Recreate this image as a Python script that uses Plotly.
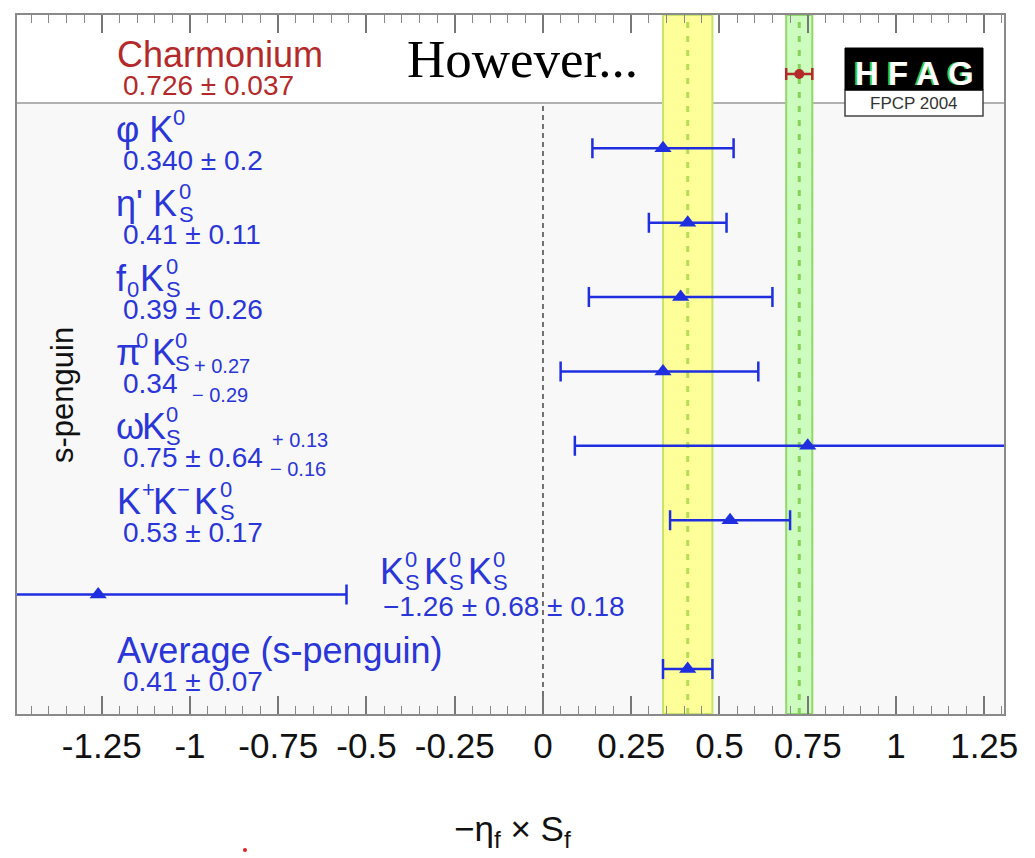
import math
import plotly.graph_objects as go

# ---------------- data ----------------
channels = ["Charmonium", "φK0", "η'K0S", "f0K0S", "π0K0S", "ωK0S", "K+K−K0S", "K0SK0SK0S", "Average (s-penguin)"]
values = [0.726, 0.340, 0.41, 0.39, 0.34, 0.75, 0.53, -1.26, 0.41]
stat_plus = [0.037, 0.20, 0.11, 0.26, 0.27, 0.64, 0.17, 0.68, 0.07]
stat_minus = [0.037, 0.20, 0.11, 0.26, 0.29, 0.64, 0.17, 0.68, 0.07]
syst_plus = [0, 0, 0, 0, 0, 0.13, 0, 0.18, 0]
syst_minus = [0, 0, 0, 0, 0, 0.16, 0, 0.18, 0]
value_labels = ["0.726 ± 0.037", "0.340 ± 0.2", "0.41 ± 0.11", "0.39 ± 0.26", "0.34",
                "0.75 ± 0.64", "0.53 ± 0.17", "−1.26 ± 0.68 ± 0.18", "0.41 ± 0.07"]
rows = [9, 8, 7, 6, 5, 4, 3, 2, 1]
tick_vals = [-1.25, -1, -0.75, -0.5, -0.25, 0, 0.25, 0.5, 0.75, 1, 1.25]
tick_text = ["-1.25", "-1", "-0.75", "-0.5", "-0.25", "0", "0.25", "0.5", "0.75", "1", "1.25"]

err_plus = [math.hypot(a, b) for a, b in zip(stat_plus, syst_plus)]
err_minus = [math.hypot(a, b) for a, b in zip(stat_minus, syst_minus)]

# ---------------- style ----------------
W, H = 1035, 858
L, R, T, B = 17, 31, 15, 144
PW, PH = W - L - R, H - T - B
SANS = "Liberation Sans, Arial, sans-serif"
SERIF = "Liberation Serif, Times New Roman, serif"
BLUE = "#2a36d8"
MARK_BLUE = "#1f2fe0"
RED = "#b42a2a"
NAME, SUB, VAL, SMALL = 36, 22, 28, 20


def px(x):
    return (x - L) / PW


def py(y):
    return (H - B - y) / PH


fig = go.Figure()

# charmonium reference
fig.add_trace(go.Scatter(
    x=values[:1], y=rows[:1], mode="markers",
    marker=dict(symbol="circle", size=10, color=RED),
    error_x=dict(type="data", symmetric=False, array=err_plus[:1], arrayminus=err_minus[:1],
                 color=RED, thickness=2.5, width=6),
    showlegend=False, hoverinfo="skip"))

# s-penguin measurements
fig.add_trace(go.Scatter(
    x=values[1:], y=rows[1:], mode="markers",
    marker=dict(symbol="triangle-up", size=15, color=MARK_BLUE),
    error_x=dict(type="data", symmetric=False, array=err_plus[1:], arrayminus=err_minus[1:],
                 color=MARK_BLUE, thickness=2.5, width=10),
    showlegend=False, hoverinfo="skip"))

y_lo, y_hi = 0.395, 9.793
sep = 8.61
avg_v, avg_e = values[-1], err_plus[-1]
ch_v, ch_e = values[0], err_plus[0]

shapes = [
    dict(type="rect", xref="paper", yref="y", x0=0, x1=1, y0=y_lo, y1=sep,
         fillcolor="#f8f8f8", line=dict(width=0), layer="below"),
    dict(type="line", xref="paper", yref="y", x0=0, x1=1, y0=sep, y1=sep,
         line=dict(color="#999999", width=1.5), layer="below"),
    dict(type="rect", xref="x", yref="paper", x0=avg_v - avg_e, x1=avg_v + avg_e, y0=0, y1=1,
         fillcolor="#ffff99", line=dict(color="#c8e46a", width=2), layer="below"),
    dict(type="line", xref="x", yref="paper", x0=avg_v, x1=avg_v, y0=0, y1=1,
         line=dict(color="#b5dd55", width=3, dash="6px,8px"), layer="below"),
    dict(type="rect", xref="x", yref="paper", x0=ch_v - ch_e, x1=ch_v + ch_e, y0=0, y1=1,
         fillcolor="#cdfcbf", line=dict(color="#90d86a", width=2), layer="below"),
    dict(type="line", xref="x", yref="paper", x0=ch_v, x1=ch_v, y0=0, y1=1,
         line=dict(color="#86d25a", width=3, dash="6px,8px"), layer="below"),
    dict(type="line", xref="x", yref="y", x0=0, x1=0, y0=y_lo, y1=sep,
         line=dict(color="#444444", width=1.5, dash="5px,4px"), layer="below"),
    dict(type="rect", xref="paper", yref="paper", x0=px(845), x1=px(983), y0=py(116), y1=py(90),
         fillcolor="white", line=dict(color="#444444", width=1.5)),
    dict(type="rect", xref="paper", yref="paper", x0=px(845), x1=px(983), y0=py(90), y1=py(48),
         fillcolor="black", line=dict(color="black", width=1)),
    dict(type="circle", xref="paper", yref="paper", x0=px(243), x1=px(247), y0=py(852), y1=py(848),
         fillcolor="#e02020", line=dict(width=0)),
]

ann = []


def add_text(text, x, y, size, color, yref="paper", yshift=0, xanchor="left",
             family=SANS, angle=0):
    ann.append(dict(text=text, x=x, y=y, xref="paper", yref=yref, yshift=yshift,
                    xanchor=xanchor, yanchor="middle", showarrow=False, textangle=angle,
                    font=dict(family=family, size=size, color=color)))


# name pieces per row: (text, left pixel x, pixel shift above row, size)
name_pieces = {
    9: [("Charmonium", 115, 19, NAME)],
    8: [("φ K", 114, 19, NAME), ("0", 171, 31, SUB)],
    7: [("η' K", 114, 19, NAME), ("0", 177, 31, SUB), ("S", 177, 8, SUB)],
    6: [("f", 114, 19, NAME), ("0", 125, 8, SUB), ("K", 138, 19, NAME),
        ("0", 164, 31, SUB), ("S", 164, 8, SUB)],
    5: [("π", 114, 19, NAME), ("0", 134, 31, SUB), ("K", 150, 19, NAME),
        ("0", 173, 31, SUB), ("S", 173, 8, SUB),
        ("+ 0.27", 192, 5, SMALL), ("− 0.29", 190, -24, SMALL)],
    4: [("ω", 114, 19, NAME), ("K", 140, 19, NAME), ("0", 164, 31, SUB), ("S", 164, 8, SUB),
        ("+ 0.13", 270, 6, SMALL), ("− 0.16", 268, -23, SMALL)],
    3: [("K", 115, 19, NAME), ("+", 140, 31, SUB), ("K", 151, 19, NAME), ("−", 175, 31, SUB),
        ("K", 192, 19, NAME), ("0", 218, 31, SUB), ("S", 218, 8, SUB)],
    2: [("K", 378, 23, NAME), ("0", 403, 35, SUB), ("S", 403, 12, SUB),
        ("K", 422, 23, NAME), ("0", 447, 35, SUB), ("S", 447, 12, SUB),
        ("K", 466, 23, NAME), ("0", 491, 35, SUB), ("S", 491, 12, SUB)],
    1: [("Average (s-penguin)", 115, 19, NAME)],
}
value_x = {2: 381}

for i, r in enumerate(rows):
    col = RED if i == 0 else BLUE
    for text, x, sh, size in name_pieces[r]:
        add_text(text, px(x), r, size, col, yref="y", yshift=sh)
    add_text(value_labels[i], px(value_x.get(r, 121)), r, VAL, col, yref="y", yshift=-12)

# other texts
add_text("However...", px(405), py(59), 53, "black", family=SERIF)
add_text("s-penguin", px(63), py(395), 31, "#111111", xanchor="center", angle=-90)
add_text("−η<sub>f</sub> × S<sub>f</sub>", px(512), py(831), 35, "#111111", xanchor="center")
add_text("<b>H F A G</b>", px(912), py(73), 33, "#33cc33", xanchor="center")
add_text("<b>H F A G</b>", px(914), py(73), 33, "white", xanchor="center")
add_text("FPCP 2004", px(914), py(103), 17, "#333333", xanchor="center")

fig.update_layout(
    width=W, height=H,
    margin=dict(l=L, r=R, t=T, b=B, autoexpand=False),
    paper_bgcolor="white", plot_bgcolor="white",
    shapes=shapes, annotations=ann,
    xaxis=dict(range=[-1.49, 1.306], tickmode="array", tickvals=tick_vals, ticktext=tick_text,
               ticks="inside", ticklen=18, tickwidth=1.5, tickcolor="#777777",
               minor=dict(dtick=0.05, tick0=0, ticks="inside", ticklen=8, tickwidth=1,
                          tickcolor="#888888"),
               showline=True, linecolor="#8a8a8a", linewidth=2, mirror="ticks",
               showgrid=False, zeroline=False,
               tickfont=dict(family=SANS, size=35, color="#111111"), ticklabelstandoff=0),
    yaxis=dict(range=[y_lo, y_hi], showticklabels=False, ticks="", showline=True,
               linecolor="#8a8a8a", linewidth=2, mirror=True, showgrid=False, zeroline=False),
)

fig.write_html("out.html")
